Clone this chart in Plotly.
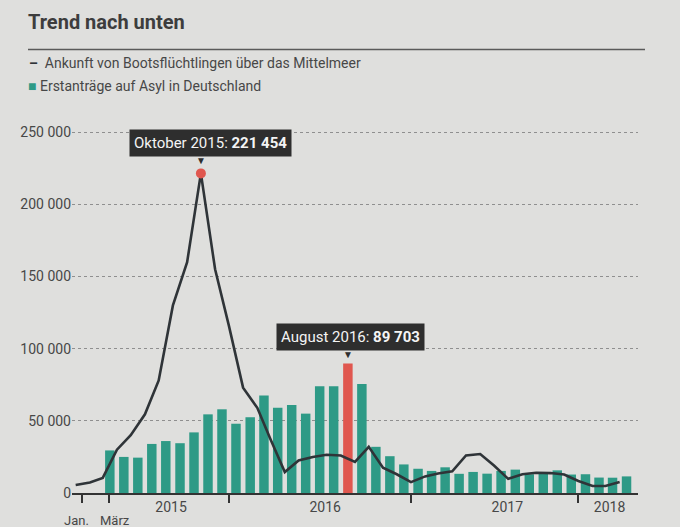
import pandas as pd
import plotly.graph_objects as go

# ---------------- data ----------------
months = [
    "2015-01", "2015-02", "2015-03", "2015-04", "2015-05", "2015-06",
    "2015-07", "2015-08", "2015-09", "2015-10", "2015-11", "2015-12",
    "2016-01", "2016-02", "2016-03", "2016-04", "2016-05", "2016-06",
    "2016-07", "2016-08", "2016-09", "2016-10", "2016-11", "2016-12",
    "2017-01", "2017-02", "2017-03", "2017-04", "2017-05", "2017-06",
    "2017-07", "2017-08", "2017-09", "2017-10", "2017-11", "2017-12",
    "2018-01", "2018-02", "2018-03", "2018-04",
]
# Ankunft von Bootsflüchtlingen über das Mittelmeer (line)
arrivals = [
    5500, 7300, 10500, 30000, 40000, 54500, 78000, 130000, 160000, 221454, 155000, 116000,
    73000, 59000, 37000, 14500, 22500, 25000, 26500, 26000, 21500, 32000, 17500, 13000,
    7500, 11500, 13500, 15000, 26000, 27000, 19000, 9800, 13000, 14000, 13800, 12800,
    8300, 4800, 4800, 7700,
]
# Erstanträge auf Asyl in Deutschland (bars, from März 2015)
bar_months = months[2:]
asylum = [
    29500, 25000, 24500, 34000, 36000, 34500, 42000, 54500, 58000, 48000,
    52500, 67500, 59000, 61000, 55000, 74000, 74000, 89703, 75500, 32000, 25500, 19800,
    16800, 15300, 17800, 13300, 14600, 13400, 15300, 16200, 13000, 14300, 15700, 12800,
    13000, 10700, 10600, 11500,
]
highlight_bar_month = "2016-08"
peak_label = "Oktober 2015"
bar_label = "August 2016"

year_label_dates = ["2015-07-28", "2016-06-28", "2017-07-30", "2018-03-10"]
year_labels = ["2015", "2016", "2017", "2018"]
tick_mark_dates = ["2015-01-15", "2015-03-15", "2015-12-01", "2017-01-01", "2018-01-01"]
month_label_dates = ["2015-01-15", "2015-03-15"]
month_labels = ["Jan.", "März"]
y_ticks = [0, 50000, 100000, 150000, 200000, 250000]

# ---------------- style ----------------
TEAL = "#2e9a86"
RED = "#e0574f"
LINE = "#2f3438"
TEXT = "#474747"
BOX = "#2e2e2e"
FONT = "Roboto, Lato, sans-serif"
BG = "#dfdfdd"

W, H = 680, 527
L, R, T, B = 72, 42, 125, 27


def px_x(px):
    return (px - L) / (W - L - R)


def px_y(py):
    return (H - B - py) / (H - T - B)


def fmt(v):
    return f"{v:,}".replace(",", " ")


fig = go.Figure()

bar_colors = [RED if m == highlight_bar_month else TEAL for m in bar_months]
fig.add_trace(go.Bar(
    x=bar_months, y=asylum, name="Erstanträge auf Asyl in Deutschland",
    marker=dict(color=bar_colors, line=dict(width=0)),
    xperiod="M1", xperiodalignment="middle",
))
fig.add_trace(go.Scatter(
    x=months, y=arrivals, mode="lines",
    name="Ankunft von Bootsflüchtlingen über das Mittelmeer",
    line=dict(color=LINE, width=2.6),
))
peak_i = arrivals.index(max(arrivals))
fig.add_trace(go.Scatter(
    x=[months[peak_i]], y=[arrivals[peak_i]], mode="markers",
    marker=dict(color=RED, size=10), showlegend=False,
))

# callouts
fig.add_annotation(
    x=months[peak_i], y=arrivals[peak_i],
    text=f"{peak_label}: <b>{fmt(arrivals[peak_i])}</b>",
    showarrow=False, yanchor="bottom", yshift=16, xshift=10,
    bgcolor=BOX, borderpad=4, font=dict(color="#f4f4f4", size=15, family=FONT),
)
fig.add_annotation(
    x=months[peak_i], y=arrivals[peak_i], text="▼", showarrow=False,
    yanchor="bottom", yshift=5, font=dict(color=BOX, size=10),
)
bar_i = bar_months.index(highlight_bar_month)
bar_mid = pd.Timestamp(highlight_bar_month + "-01") + pd.Timedelta(days=15)
fig.add_annotation(
    x=bar_mid, y=asylum[bar_i],
    text=f"{bar_label}: <b>{fmt(asylum[bar_i])}</b>",
    showarrow=False, yanchor="bottom", yshift=13, xshift=3,
    bgcolor=BOX, borderpad=4, font=dict(color="#f4f4f4", size=15, family=FONT),
)
fig.add_annotation(
    x=bar_mid, y=asylum[bar_i], text="▼", showarrow=False,
    yanchor="bottom", yshift=2, font=dict(color=BOX, size=10),
)

# legend (as text)
fig.add_annotation(
    xref="paper", yref="paper", x=px_x(27), y=px_y(62), xanchor="left", yanchor="middle",
    text=f"<span style='color:{LINE}'><b>–</b></span>  Ankunft von Bootsflüchtlingen über das Mittelmeer",
    showarrow=False, font=dict(color=TEXT, size=14, family=FONT),
)
fig.add_annotation(
    xref="paper", yref="paper", x=px_x(26), y=px_y(85), xanchor="left", yanchor="middle",
    text=f"<span style='color:{TEAL}'>■</span> Erstanträge auf Asyl in Deutschland",
    showarrow=False, font=dict(color=TEXT, size=14, family=FONT),
)
for d, lab, dx in zip(month_label_dates, month_labels, [-6, 6]):
    fig.add_annotation(
        x=d, y=0, yref="paper", text=lab, showarrow=False, yanchor="top",
        yshift=-18, xshift=dx, font=dict(color=TEXT, size=13, family=FONT),
    )

fig.add_shape(
    type="line", xref="paper", yref="paper",
    x0=px_x(28), x1=px_x(645), y0=px_y(48), y1=px_y(48),
    line=dict(color="#5a5a5a", width=1.5),
)

fig.update_layout(
    width=W, height=H,
    margin=dict(l=L, r=R, t=T, b=B),
    paper_bgcolor=BG, plot_bgcolor=BG,
    separators=", ",
    showlegend=False,
    bargap=0.3,
    font=dict(family=FONT, color=TEXT, size=14),
    title=dict(
        text="<b>Trend nach unten</b>", x=28 / W, xref="container", xanchor="left",
        y=1 - 22 / H, yref="container", yanchor="middle",
        font=dict(size=20, color="#3d3d3d", family=FONT),
    ),
    xaxis=dict(
        type="date", range=["2014-12-24", "2018-05-11"],
        tickmode="array", tickvals=year_label_dates, ticktext=year_labels,
        ticks="", showgrid=False, zeroline=False,
        showline=True, linecolor="#333333", linewidth=2,
        tickfont=dict(size=14, color=TEXT),
        minor=dict(tickmode="array", tickvals=tick_mark_dates, ticks="outside",
                   ticklen=8, tickwidth=2, tickcolor="#333333", showgrid=False),
    ),
    yaxis=dict(
        range=[0, 255000], tickmode="array", tickvals=y_ticks, tickformat=",d",
        showgrid=True, gridcolor="#8f8f8f", griddash="dot", gridwidth=1,
        zeroline=False, showline=False, ticks="",
        tickfont=dict(size=14, color=TEXT),
    ),
)

fig.write_html("out.html", config={"displayModeBar": False},
               post_script="document.body.style.margin='0';")
